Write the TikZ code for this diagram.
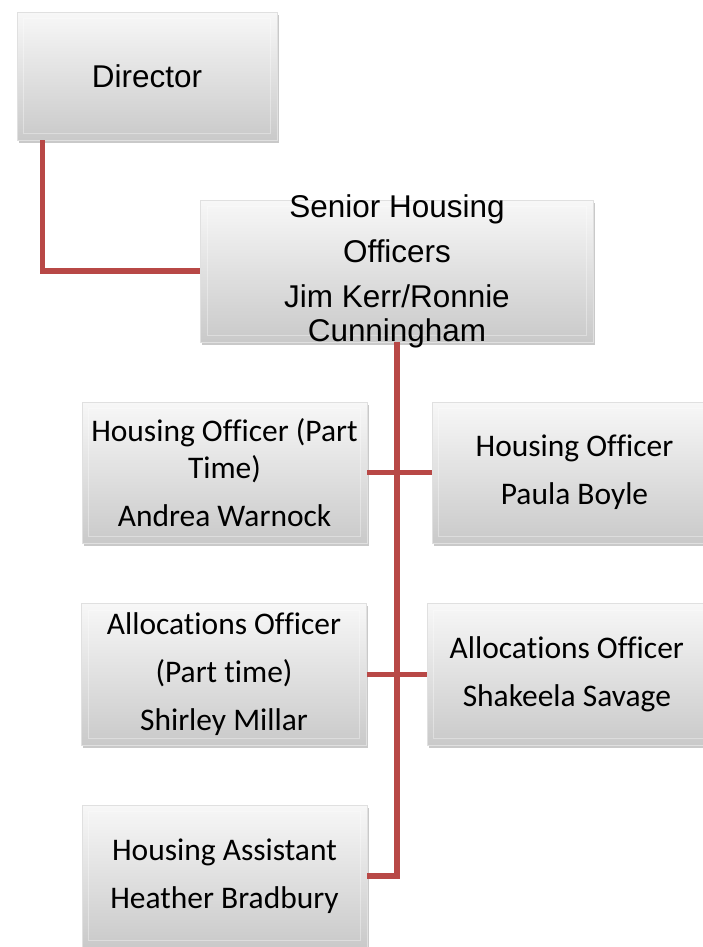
\documentclass[tikz,border=0pt]{standalone}
\usepackage{fontspec}
\usepackage{tikz}
\usetikzlibrary{shadows}
\newfontfamily\arialfont{Liberation Sans}
\newfontfamily\calfont{Carlito}[Ligatures=NoCommon]
\definecolor{linkred}{RGB}{184,72,70}

\begin{document}
\begin{tikzpicture}[x=0.75pt,y=0.75pt,yscale=-1,xscale=1,
  orgbox/.style={draw=white!88!black, line width=0.6pt, top color=white!97!black, bottom color=white!79!black, inner sep=0pt,
    drop shadow={shadow xshift=1.2pt, shadow yshift=-2.2pt, opacity=0.3, fill=black!70},
    path picture={\draw[white, line width=0.8pt, opacity=0.35]
      ([xshift=5pt,yshift=-5pt]path picture bounding box.north west) rectangle ([xshift=-5pt,yshift=5pt]path picture bounding box.south east);}},
  link/.style={draw=linkred, line width=3.8pt},
  arialtext/.style={font=\arialfont\fontsize{23.6}{25.5}\selectfont, align=center, inner sep=0pt},
  caltext/.style={font=\calfont\fontsize{23.6}{27.5}\selectfont, align=center, inner sep=0pt}]
%set diagram left start at 0, and has height of 947
\useasboundingbox (0,0) rectangle (703,947);

%Shape: Rectangle [Director]
\node[orgbox, minimum width=195pt, minimum height=96pt] (dir) at (147,76) {};
%Shape: Rectangle [Senior Housing Officers]
\node[orgbox, minimum width=294.75pt, minimum height=106.5pt] (snr) at (397,271) {};
%Shape: Rectangle [Housing Officer (Part Time)]
\node[orgbox, minimum width=213.75pt, minimum height=105.75pt] (hop) at (224.5,472.5) {};
%Shape: Rectangle [Housing Officer]
\node[orgbox, minimum width=213.75pt, minimum height=105.75pt] (ho) at (574.5,472.5) {};
%Shape: Rectangle [Allocations Officer (Part time)]
\node[orgbox, minimum width=213.75pt, minimum height=106.5pt] (alp) at (224,674.5) {};
%Shape: Rectangle [Allocations Officer]
\node[orgbox, minimum width=213.75pt, minimum height=106.5pt] (al) at (569.5,674.5) {};
%Shape: Rectangle [Housing Assistant]
\node[orgbox, minimum width=213.75pt, minimum height=106.5pt] (ast) at (224.5,876) {};

%Straight Lines
\draw[link] (dir.south west) ++(26,0) |- (snr.west) ;
%Straight Lines
\draw[link] (snr.south) |- (ast.east) ;
%Straight Lines
\draw[link] (hop.east) -- (ho.west) ;
%Straight Lines
\draw[link] (alp.east) -- (al.west) ;

% Text Node
\node[arialtext] (dir-t) at (dir.center) {Director};
% Text Node
\node[arialtext] (snr-t) at (snr.center) {Senior Housing\\[8.3pt]Officers\\[8.3pt]Jim Kerr/Ronnie\\Cunningham};
% Text Node
\node[caltext] (hop-t) at (hop.center) {Housing Officer (Part\\Time)\\[8.5pt]Andrea Warnock};
% Text Node
\node[caltext] (ho-t) at (ho.center) {Housing Officer\\[8.5pt]Paula Boyle};
% Text Node
\node[caltext] (alp-t) at (alp.center) {Allocations Officer\\[8.5pt](Part time)\\[8.5pt]Shirley Millar};
% Text Node
\node[caltext] (al-t) at ([xshift=-2pt]al.center) {Allocations Officer\\[8.5pt]Shakeela Savage};
% Text Node
\node[caltext] (ast-t) at (ast.center) {Housing Assistant\\[8.5pt]Heather Bradbury};

\end{tikzpicture}
\end{document}
